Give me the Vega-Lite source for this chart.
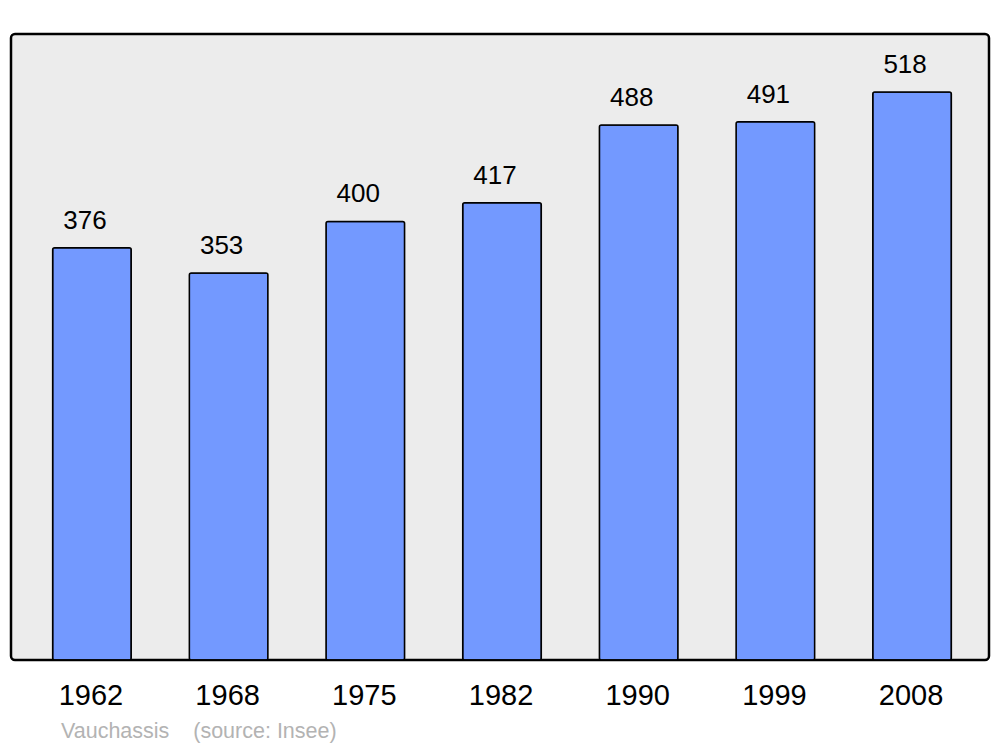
{
  "$schema": "https://vega.github.io/schema/vega-lite/v6.json",
  "width": 978,
  "height": 626,
  "autosize": "none",
  "padding": {"left": 11, "top": 34, "right": 11, "bottom": 87},
  "background": "white",
  "config": {
    "font": "Liberation Sans",
    "view": {"fill": "#ececec", "stroke": "#000000", "strokeWidth": 2.5, "cornerRadius": 4}
  },
  "title": {
    "text": "Vauchassis\u00a0\u00a0\u00a0\u00a0(source: Insee)",
    "orient": "bottom",
    "anchor": "start",
    "dx": 50,
    "offset": 10,
    "fontSize": 21.5,
    "fontWeight": "normal",
    "color": "#b3b3b3",
    "font": "Liberation Sans"
  },
  "data": {
    "values": [
      {"year": "1962", "pop": 376},
      {"year": "1968", "pop": 353},
      {"year": "1975", "pop": 400},
      {"year": "1982", "pop": 417},
      {"year": "1990", "pop": 488},
      {"year": "1999", "pop": 491},
      {"year": "2008", "pop": 518}
    ]
  },
  "encoding": {
    "x": {
      "field": "year",
      "type": "ordinal",
      "sort": null,
      "scale": {"paddingInner": 0.425, "paddingOuter": 0.29, "range": [2, 980]},
      "axis": {
        "title": null,
        "labelAngle": 0,
        "labelFontSize": 29,
        "labelColor": "#000000",
        "labelPadding": 21.5,
        "labelOffset": -1,
        "domain": false,
        "ticks": false,
        "grid": false
      }
    },
    "y": {
      "field": "pop",
      "type": "quantitative",
      "scale": {"domain": [0, 571], "nice": false, "zero": true},
      "axis": null
    }
  },
  "layer": [
    {
      "mark": {"type": "bar", "fill": "#7399ff", "stroke": "#000000", "strokeWidth": 1.5, "cornerRadius": 2}
    },
    {
      "mark": {"type": "text", "fontSize": 26, "color": "#000000", "baseline": "alphabetic", "dy": -19, "dx": -7},
      "encoding": {"text": {"field": "pop", "type": "quantitative"}}
    }
  ]
}
